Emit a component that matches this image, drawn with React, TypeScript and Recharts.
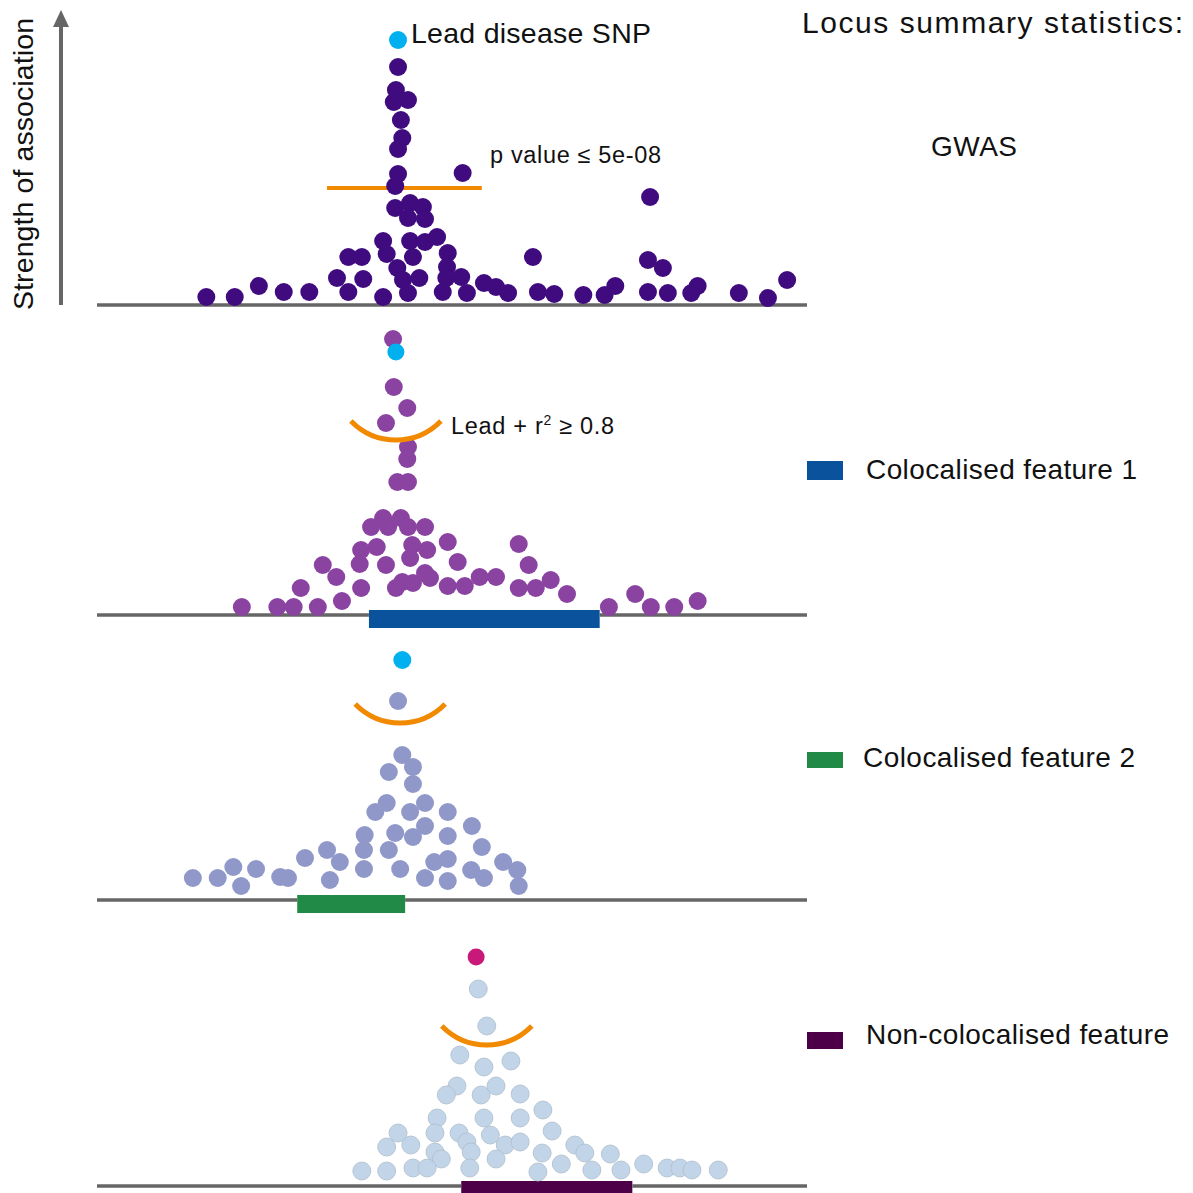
import { ReferenceArea, ReferenceLine, Scatter, ScatterChart, XAxis, YAxis } from "recharts";

const FONT = "'Liberation Sans', Arial, Helvetica, sans-serif";
const ORANGE = "#f18a00";
const LEAD = "#00b0ef";
const AXIS_GREY = "#666666";

type Snp = { pos: number; strength: number };
const toSnps = (list: number[][]): Snp[] => list.map(([pos, strength]) => ({ pos, strength }));

// position along the locus (0-100) and strength of association, one panel each
const gwasLead = toSnps([[42.4, 26.5]]);
const gwasSnps = toSnps([
	[42.4, 23.8], [42.1, 21.5], [43.8, 20.5], [41.8, 20.3], [42.8, 18.5], [43.0, 16.7], [42.4, 15.6],
	[42.4, 13.1], [42.0, 11.9], [51.5, 13.2], [42.0, 9.7], [44.1, 10.2], [45.9, 9.8], [43.8, 8.7],
	[46.2, 8.6], [40.3, 6.4], [44.1, 6.4], [46.2, 6.3], [47.9, 6.8], [40.8, 5.1], [44.5, 4.8],
	[35.4, 4.8], [37.3, 4.8], [49.4, 5.2], [42.3, 3.7], [49.3, 3.8], [33.8, 2.7], [37.5, 2.6],
	[43.1, 2.5], [45.4, 2.7], [49.2, 2.7], [51.3, 2.8], [35.4, 1.3], [43.8, 1.2], [48.7, 1.3],
	[52.1, 1.2], [40.3, 0.8], [15.4, 0.8], [19.4, 0.8], [22.8, 1.9], [26.3, 1.3], [29.9, 1.3],
	[54.5, 2.2], [56.2, 1.8], [57.9, 1.2], [61.4, 4.8], [62.1, 1.3], [64.4, 1.1], [68.5, 1.0],
	[71.5, 1.0], [73.0, 1.9], [77.9, 10.8], [77.6, 4.5], [79.7, 3.7], [77.6, 1.3], [80.4, 1.2],
	[83.7, 1.2], [84.6, 1.9], [90.4, 1.2], [94.5, 0.7], [97.2, 2.5],
]);
const gwasThreshold = toSnps([[32.4, 11.7], [54.2, 11.7]]);

const feature1Lead = toSnps([[42.1, 26.3]]);
const feature1Snps = toSnps([
	[41.7, 27.6], [41.8, 22.8], [43.7, 20.7], [40.7, 19.2], [43.8, 16.8], [43.7, 15.6], [42.3, 13.3],
	[43.8, 13.3], [40.3, 9.7], [42.8, 9.7], [38.6, 8.8], [41.0, 8.8], [43.8, 8.8], [46.2, 8.8],
	[39.4, 6.8], [37.2, 6.5], [44.4, 7.0], [46.5, 6.5], [49.4, 7.3], [44.1, 5.7], [37.0, 5.1],
	[40.7, 5.0], [50.8, 5.3], [31.8, 5.0], [33.7, 3.8], [28.7, 2.7], [37.2, 2.7], [42.1, 2.7],
	[43.0, 3.3], [44.5, 3.2], [46.2, 4.2], [46.9, 3.7], [49.4, 2.9], [51.8, 2.9], [53.9, 3.8],
	[56.2, 3.8], [34.5, 1.4], [20.4, 0.8], [25.4, 0.8], [27.7, 0.8], [31.1, 0.8], [59.4, 7.1],
	[60.8, 5.0], [59.4, 2.7], [61.8, 2.7], [63.9, 3.5], [66.2, 2.1], [72.1, 0.8], [75.8, 2.1],
	[78.0, 0.8], [81.3, 0.8], [84.6, 1.4],
]);
const feature1Arc = toSnps([[42.1, 17.5]]);
const feature1Span = [38.3, 70.8];

const feature2Lead = toSnps([[43.0, 24.0]]);
const feature2Snps = toSnps([
	[42.4, 19.9], [43.0, 14.5], [41.1, 12.8], [44.5, 13.3], [44.5, 11.6], [40.8, 9.7], [39.2, 8.8],
	[44.1, 8.8], [46.2, 9.7], [49.4, 8.8], [46.2, 7.4], [37.7, 6.5], [42.0, 6.7], [44.5, 6.3],
	[49.4, 6.4], [52.8, 7.4], [37.6, 5.0], [41.1, 5.0], [54.2, 5.3], [29.3, 4.2], [32.4, 5.0],
	[34.2, 3.8], [37.6, 3.1], [42.7, 3.1], [47.5, 3.8], [49.4, 4.1], [57.2, 3.8], [59.2, 3.0],
	[13.5, 2.2], [17.0, 2.2], [19.2, 3.3], [20.3, 1.4], [22.4, 3.1], [25.8, 2.3], [26.9, 2.2],
	[32.8, 2.0], [46.2, 2.2], [49.4, 1.9], [52.7, 3.0], [54.5, 2.2], [59.4, 1.4],
]);
const feature2Arc = toSnps([[42.7, 17.7]]);
const feature2Span = [28.2, 43.4];

const feature3Lead = toSnps([[53.4, 22.9]]);
const feature3Snps = toSnps([
	[53.7, 19.7], [54.9, 16.0], [51.1, 13.1], [54.5, 11.9], [58.3, 12.5], [50.7, 10.0], [49.2, 9.1],
	[54.1, 9.1], [56.2, 10.0], [59.6, 9.2], [62.8, 7.6], [47.9, 6.8], [54.5, 6.8], [59.6, 6.8],
	[42.4, 5.3], [47.6, 5.3], [51.0, 5.3], [55.4, 5.1], [64.1, 5.5], [40.8, 3.9], [44.2, 4.1],
	[52.1, 4.4], [57.5, 4.1], [59.6, 4.4], [47.6, 3.4], [48.5, 2.7], [52.7, 3.4], [56.2, 2.7],
	[62.7, 3.3], [67.3, 4.1], [68.7, 3.3], [72.3, 3.2], [37.3, 1.5], [40.8, 1.5], [44.5, 1.8],
	[46.5, 1.8], [52.5, 1.8], [62.1, 1.4], [65.4, 2.2], [69.7, 1.6], [73.8, 1.6], [77.0, 2.2],
	[80.3, 1.8], [82.1, 1.8], [83.8, 1.6], [87.5, 1.6],
]);
const feature3Arc = toSnps([[54.9, 14.1]]);
const feature3Span = [51.3, 75.4];

const Dot = (fill: string, r: number, stroke?: string) => (p: any) => (
	<circle cx={p.cx} cy={p.cy} r={r} fill={fill} stroke={stroke ?? "none"} strokeWidth={stroke ? 0.8 : 0} />
);

const ArcShape = (p: any) => {
	const a = 45;
	const s = 19;
	const r = (a * a + s * s) / (2 * s);
	return (
		<path
			d={`M${p.cx - a},${p.cy - s} A${r},${r} 0 0 0 ${p.cx + a},${p.cy - s}`}
			fill="none"
			stroke={ORANGE}
			strokeWidth={5}
		/>
	);
};

type PanelProps = {
	top: number;
	snps: Snp[];
	color: string;
	outline?: string;
	lead: Snp[];
	leadColor: string;
	leadR: number;
	arc?: Snp[];
	span?: number[];
	spanColor?: string;
	threshold?: Snp[];
};

const Panel = ({ top, snps, color, outline, lead, leadColor, leadR, arc, span, spanColor, threshold }: PanelProps) => {
	// baseline is broken where the feature bar sits so the bar stays solid
	const gaps = span ? [[0, span[0]], [span[1], 100]] : [[0, 100]];
	return (
		<div style={{ position: "absolute", left: 0, top }}>
			<ScatterChart width={1193} height={320} margin={{ top: 0, right: 386, bottom: 20, left: 97 }}>
				<XAxis type="number" dataKey="pos" domain={[0, 100]} hide />
				<YAxis type="number" dataKey="strength" domain={[0, 30]} hide />
				{gaps.map(([a, b]) => (
					<ReferenceLine
						key={a}
						segment={[
							{ x: a, y: 0 },
							{ x: b, y: 0 },
						]}
						stroke={AXIS_GREY}
						strokeWidth={3.5}
					/>
				))}
				{span && (
					<ReferenceArea
						x1={span[0]}
						x2={span[1]}
						y1={-1.3}
						y2={0.5}
						fill={spanColor}
						fillOpacity={1}
						stroke="none"
						ifOverflow="visible"
					/>
				)}
				{threshold && (
					<ReferenceLine
						segment={[
							{ x: threshold[0].pos, y: threshold[0].strength },
							{ x: threshold[1].pos, y: threshold[1].strength },
						]}
						stroke={ORANGE}
						strokeWidth={4}
					/>
				)}
				<Scatter data={snps} shape={Dot(color, 9, outline)} isAnimationActive={false} />
				{arc && <Scatter data={arc} shape={ArcShape} isAnimationActive={false} />}
				<Scatter data={lead} shape={Dot(leadColor, leadR)} isAnimationActive={false} />
			</ScatterChart>
		</div>
	);
};

const Annotations = () => (
	<svg
		width={1193}
		height={1193}
		style={{ position: "absolute", left: 0, top: 0, pointerEvents: "none" }}
		fontFamily={FONT}
		fill="#111">
		<line x1={61} y1={305} x2={61} y2={24} stroke={AXIS_GREY} strokeWidth={4} />
		<polygon points="61,10 53,27 69,27" fill={AXIS_GREY} />
		<text transform="translate(33,310) rotate(-90)" fontSize={28.5} textLength={292} lengthAdjust="spacing">
			Strength of association
		</text>
		<text x={802} y={33} fontSize={30} textLength={381} lengthAdjust="spacing">
			Locus summary statistics:
		</text>
		<text x={931} y={156} fontSize={28} textLength={86} lengthAdjust="spacing">
			GWAS
		</text>
		<text x={411} y={43} fontSize={28.5} textLength={240} lengthAdjust="spacing">
			Lead disease SNP
		</text>
		<text x={490} y={163} fontSize={23.5} textLength={171} lengthAdjust="spacing">
			p value ≤ 5e-08
		</text>
		<text x={451} y={434} fontSize={23.5} textLength={163} lengthAdjust="spacing">
			Lead + r<tspan dy={-9} fontSize={14}>2</tspan>
			<tspan dy={9}> ≥ 0.8</tspan>
		</text>
		<rect x={807} y={461} width={36} height={19} fill="#0b529d" />
		<text x={866} y={479} fontSize={28} textLength={271} lengthAdjust="spacing">
			Colocalised feature 1
		</text>
		<rect x={807} y={752} width={36} height={16} fill="#218a47" />
		<text x={863} y={767} fontSize={28} textLength={272} lengthAdjust="spacing">
			Colocalised feature 2
		</text>
		<rect x={807} y={1032} width={36} height={17} fill="#4d0048" />
		<text x={866} y={1044} fontSize={28} textLength={303} lengthAdjust="spacing">
			Non-colocalised feature
		</text>
	</svg>
);

export default function App() {
	return (
		<div style={{ position: "absolute", left: 0, top: 0, width: 1193, height: 1193, overflow: "hidden", background: "#fff" }}>
			<Panel top={5} snps={gwasSnps} color="#3f0b7f" lead={gwasLead} leadColor={LEAD} leadR={9} threshold={gwasThreshold} />
			<Panel
				top={315}
				snps={feature1Snps}
				color="#8a43a0"
				lead={feature1Lead}
				leadColor={LEAD}
				leadR={8.5}
				arc={feature1Arc}
				span={feature1Span}
				spanColor="#0b529d"
			/>
			<Panel
				top={600}
				snps={feature2Snps}
				color="#8f98c9"
				lead={feature2Lead}
				leadColor={LEAD}
				leadR={9}
				arc={feature2Arc}
				span={feature2Span}
				spanColor="#218a47"
			/>
			<Panel
				top={886}
				snps={feature3Snps}
				color="#c2d5e8"
				outline="#adbdcc"
				lead={feature3Lead}
				leadColor="#c8197a"
				leadR={8.5}
				arc={feature3Arc}
				span={feature3Span}
				spanColor="#4d0048"
			/>
			<Annotations />
		</div>
	);
}
